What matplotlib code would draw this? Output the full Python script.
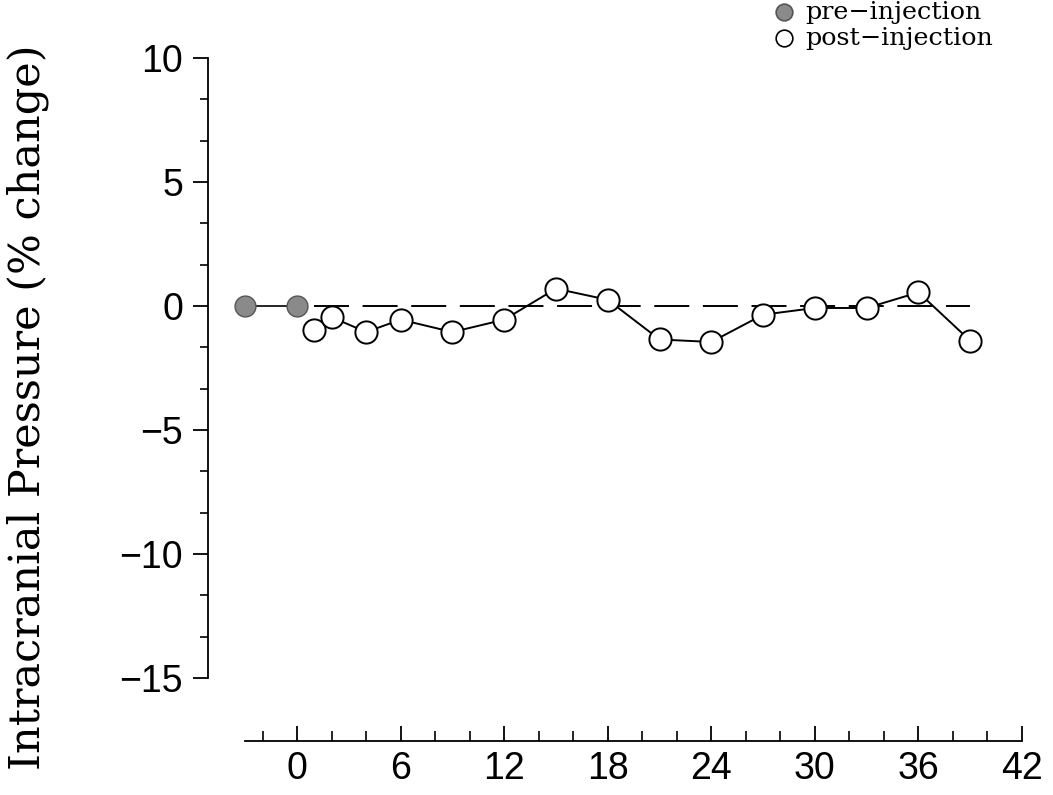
import matplotlib
matplotlib.use("Agg")
import matplotlib.pyplot as plt
import numpy as np
from matplotlib.ticker import FixedLocator
from matplotlib.lines import Line2D

# Data
pre_x = [-3, 0]
pre_y = [0.0, 0.0]
post_x = [1, 2, 4, 6, 9, 12, 15, 18, 21, 24, 27, 30, 33, 36, 39]
post_y = [-0.95, -0.45, -1.05, -0.55, -1.05, -0.55, 0.7, 0.25,
          -1.35, -1.45, -0.35, -0.08, -0.08, 0.55, -1.4]
ref_x = [1, 39]
ref_y = [0, 0]
x_major = [0, 6, 12, 18, 24, 30, 36, 42]
y_major = [-15, -10, -5, 0, 5, 10]
y_label = "Intracranial Pressure (% change)"
legend_labels = ["pre\u2212injection", "post\u2212injection"]

W, H = 1053, 795
fig = plt.figure(figsize=(W / 100, H / 100), dpi=100)
left_px, right_px, top_px, bot_px = 208, 1022, 58, 741
ax = fig.add_axes([left_px / W, (H - bot_px) / H,
                   (right_px - left_px) / W, (bot_px - top_px) / H])
ax.set_xlim(-5.16, 42)
ax.set_ylim(-17.54, 10)

for s in ["top", "right"]:
    ax.spines[s].set_visible(False)
ax.spines["left"].set_bounds(-15, 10)
ax.spines["bottom"].set_bounds(-3, 42)
for s in ["left", "bottom"]:
    ax.spines[s].set_linewidth(1.3)

# reference dashed line
ax.plot(ref_x, ref_y, color="black", lw=1.4, dashes=(18, 7), zorder=1)

# pre-injection
ax.plot(pre_x, pre_y, color="black", lw=1.2, marker="o", ms=15,
        mfc="#8a8a8a", mec="#555555", mew=1.0, clip_on=False, zorder=3)
# post-injection
ax.plot(post_x, post_y, color="black", lw=1.4, marker="o", ms=16,
        mfc="white", mec="black", mew=1.4, clip_on=False, zorder=3)

tick_font = {"family": ["Liberation Sans", "DejaVu Sans"], "weight": "normal",
             "size": 27, "color": "black"}

ax.yaxis.set_major_locator(FixedLocator(y_major))
ax.yaxis.set_minor_locator(FixedLocator([v for v in np.arange(-15, 10.01, 5 / 3)
                                         if all(abs(v - m) > 0.1 for m in y_major)]))
ax.xaxis.set_major_locator(FixedLocator(x_major))
ax.xaxis.set_minor_locator(FixedLocator([v for v in range(-2, 43, 2) if v not in x_major]))

ax.tick_params(axis="y", which="major", direction="out", length=11, width=1.3, pad=7)
ax.tick_params(axis="y", which="minor", direction="out", length=6, width=1.2)
ax.tick_params(axis="x", which="major", direction="in", length=11, width=1.3, pad=7)
ax.tick_params(axis="x", which="minor", direction="in", length=7, width=1.2)

ax.set_yticklabels([str(v).replace("-", "\u2212") for v in y_major], fontdict=tick_font)
ax.set_xticklabels([str(v) for v in x_major], fontdict=tick_font)

fig.text(28 / W, (H - 407) / H, y_label, rotation=90, ha="center", va="center",
         family="DejaVu Serif", fontsize=31)

# legend (drawn as marker + text pairs)
leg_y_px = [12, 38]
leg_fill = ["#8a8a8a", "white"]
leg_edge = ["#555555", "black"]
for yp, lab, fc, ec in zip(leg_y_px, legend_labels, leg_fill, leg_edge):
    fig.add_artist(Line2D([784 / W], [1 - yp / H], ls="none", marker="o", ms=12,
                          mfc=fc, mec=ec, mew=1.2, transform=fig.transFigure))
    fig.text(805 / W, 1 - yp / H, lab, ha="left", va="center",
             family="DejaVu Serif", fontsize=18.3)

fig.savefig("out.png", dpi=100, facecolor="white")
